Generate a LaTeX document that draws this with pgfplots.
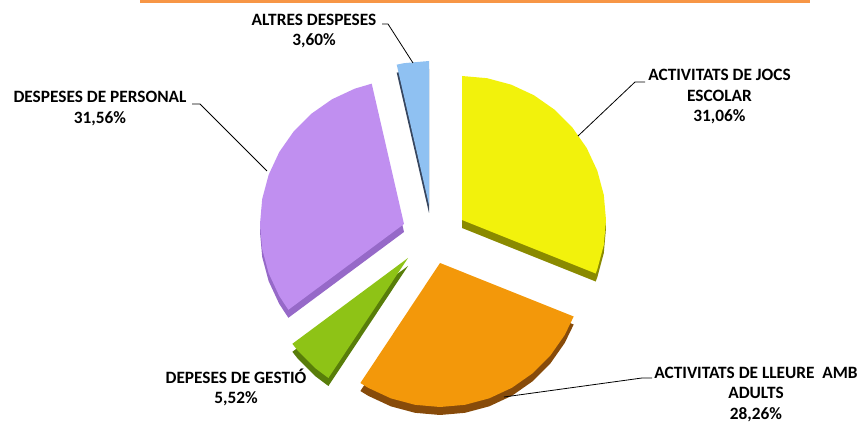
\documentclass[border=0pt]{standalone}
\usepackage{pgfplots}
\usepackage{pgfplotstable}
\pgfplotsset{compat=1.18}
\usepackage{fontspec}
\setmainfont{Carlito}
\definecolor{cYel}{RGB}{242,242,12}
\definecolor{cYelD}{RGB}{138,138,0}
\definecolor{cOra}{RGB}{243,152,10}
\definecolor{cOraD}{RGB}{135,75,10}
\definecolor{cGre}{RGB}{142,195,22}
\definecolor{cGreD}{RGB}{88,125,10}
\definecolor{cPur}{RGB}{192,143,240}
\definecolor{cPurD}{RGB}{150,105,200}
\definecolor{cBlu}{RGB}{143,193,242}
\definecolor{cBluD}{RGB}{55,70,95}
\definecolor{cLine}{RGB}{247,150,70}
% slice outlines: angle (deg) radius ; percentages 31.06 28.26 5.52 31.56 3.60
\pgfplotstableread{
a r
0 0
90 144
80 144
70 144
60 144
50 144
40 144
30 144
20 144
10 144
0 144
-10 144
-20 144
-21.816 144
}\yel
\pgfplotstableread{
a r
0 0
-21.816 144
-30 144
-40 144
-50 144
-60 144
-70 144
-80 144
-90 144
-100 144
-110 144
-120 144
-123.552 144
}\ora
\pgfplotstableread{
a r
0 0
-123.552 144
-130 144
-140 144
-143.424 144
}\gre
\pgfplotstableread{
a r
0 0
-143.424 144
-150 144
-160 144
-170 144
-180 144
-190 144
-200 144
-210 144
-220 144
-230 144
-240 144
-250 144
-257.04 144
}\pur
\pgfplotstableread{
a r
0 0
102.96 144
100 144
90 144
}\blu
\begin{document}
\begin{tikzpicture}
\begin{axis}[scale only axis, width=862pt, height=425pt,
  xmin=-432, xmax=430, ymin=-190, ymax=235, hide axis, clip=false]
% top line
\addplot[cLine, line width=3pt] coordinates {(-292,233.5) (378,233.5)};
% rims
\addplot[data cs=polar, fill=cYelD, draw=none, xshift=30pt, yshift=7pt] table[x=a,y=r]{\yel} -- cycle;
\addplot[data cs=polar, fill=cOraD, draw=none, xshift=8pt, yshift=-36pt] table[x=a,y=r]{\ora} -- cycle;
\addplot[data cs=polar, fill=cGreD, draw=none, xshift=-24pt, yshift=-31pt] table[x=a,y=r]{\gre} -- cycle;
\addplot[data cs=polar, fill=cPurD, draw=none, xshift=-28pt, yshift=3pt] table[x=a,y=r]{\pur} -- cycle;
\addplot[data cs=polar, fill=cBluD, draw=none, xshift=-3pt, yshift=22pt] table[x=a,y=r]{\blu} -- cycle;
% tops
\addplot[data cs=polar, fill=cYel, draw=none, xshift=30pt, yshift=15pt] table[x=a,y=r]{\yel} -- cycle;
\addplot[data cs=polar, fill=cOra, draw=none, xshift=8pt, yshift=-28pt] table[x=a,y=r]{\ora} -- cycle;
\addplot[data cs=polar, fill=cGre, draw=none, xshift=-24pt, yshift=-23pt] table[x=a,y=r]{\gre} -- cycle;
\addplot[data cs=polar, fill=cPur, draw=none, xshift=-28pt, yshift=11pt] table[x=a,y=r]{\pur} -- cycle;
\addplot[data cs=polar, fill=cBlu, draw=none, xshift=-3pt, yshift=30pt] table[x=a,y=r]{\blu} -- cycle;
% leader lines
\addplot[black, line width=0.8pt] coordinates {(213,153) (203,153) (146,99)};
\addplot[black, line width=0.8pt] coordinates {(-240,131) (-232,131) (-165,64)};
\addplot[black, line width=0.8pt] coordinates {(-50,211) (-44,211) (-19,172)};
\addplot[black, line width=0.8pt] coordinates {(72,-162) (210,-143) (220,-143)};
% labels
\begin{scope}[every node/.style={font=\fontsize{17.3}{20.5}\selectfont\bfseries, align=center, inner sep=0pt}]
\node at (axis cs:287.5,138) {ACTIVITATS DE JOCS\\ESCOLAR\\31,06\%};
\node at (axis cs:-332,126.5) {DESPESES DE PERSONAL\\31,56\%};
\node at (axis cs:-118,204) {ALTRES DESPESES\\3,60\%};
\node at (axis cs:324,-159) {ACTIVITATS DE LLEURE~~AMB\\ADULTS\\28,26\%};
\node at (axis cs:-196,-152.5) {DEPESES DE GESTIÓ\\5,52\%};
\end{scope}
\end{axis}
\pgfresetboundingbox
\path[use as bounding box] (current axis.south west) rectangle (current axis.north east);
\end{tikzpicture}
\end{document}
